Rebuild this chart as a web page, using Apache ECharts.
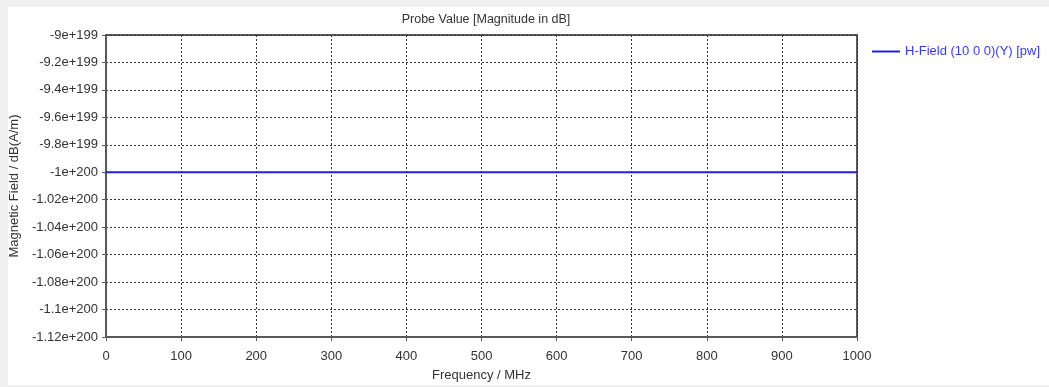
<!DOCTYPE html>
<html>
<head>
<meta charset="utf-8">
<script src="https://cdn.jsdelivr.net/npm/echarts@6/dist/echarts.min.js"></script>
<style>
html,body{margin:0;padding:0;background:#fff;}
#c{width:1049px;height:387px;}
</style>
</head>
<body>
<div id="c"></div>
<script>
const frequencies = [0, 100, 200, 300, 400, 500, 600, 700, 800, 900, 1000];
const hField = [-1e200, -1e200, -1e200, -1e200, -1e200, -1e200, -1e200, -1e200, -1e200, -1e200, -1e200];
const seriesName = 'H-Field (10 0 0)(Y) [pw]';
const yMin = -1.12e200, yMax = -9e199, yStep = 2e198;
const xMin = 0, xMax = 1000, xStep = 100;

const FONT = '"Liberation Sans", Arial, sans-serif';
const chart = echarts.init(document.getElementById('c'), null, {renderer: 'canvas'});
chart.setOption({
  animation: false,
  backgroundColor: '#ffffff',
  textStyle: {fontFamily: FONT},
  graphic: [
    {type: 'rect', shape: {x: 0, y: 0, width: 1049, height: 7}, style: {fill: '#f0f0f0'}, silent: true},
    {type: 'rect', shape: {x: 0, y: 0, width: 8, height: 387}, style: {fill: '#f0f0f0'}, silent: true},
    {type: 'rect', shape: {x: 0, y: 385, width: 1049, height: 2}, style: {fill: '#f0f0f0'}, silent: true}
  ],
  title: {
    text: 'Probe Value [Magnitude in dB]',
    left: 481, top: 8, textAlign: 'center',
    textStyle: {fontSize: 12.5, fontWeight: 'normal', color: '#333', fontFamily: FONT}
  },
  legend: {
    left: 867, top: 40,
    itemWidth: 28, itemHeight: 2, itemGap: 5,
    icon: 'rect',
    data: [{name: seriesName}],
    textStyle: {fontSize: 13, color: '#3a3af0', fontFamily: FONT}
  },
  grid: {
    left: 105, right: 192, top: 35, bottom: 45,
    show: true, borderColor: '#5a5a5a', borderWidth: 2, backgroundColor: 'transparent'
  },
  xAxis: {
    type: 'value', min: xMin, max: xMax, interval: xStep,
    name: 'Frequency / MHz', nameLocation: 'middle', nameGap: 32,
    nameTextStyle: {fontSize: 13, color: '#333', fontFamily: FONT},
    axisLine: {show: true, lineStyle: {color: '#5a5a5a', width: 2}},
    axisTick: {show: true, length: 4, lineStyle: {color: '#5a5a5a', width: 1}},
    axisLabel: {fontSize: 13, color: '#333', margin: 13, fontFamily: FONT,
      formatter: function (v) { return String(v); }},
    splitLine: {show: true, lineStyle: {color: '#333', width: 1, type: [2, 2]}}
  },
  yAxis: {
    type: 'value', min: yMin, max: yMax, interval: yStep,
    name: 'Magnetic Field / dB(A/m)', nameLocation: 'middle', nameGap: 78,
    nameTextStyle: {fontSize: 13, color: '#333', fontFamily: FONT},
    axisLine: {show: true, lineStyle: {color: '#5a5a5a', width: 2}},
    axisTick: {show: true, length: 4, lineStyle: {color: '#5a5a5a', width: 1}},
    axisLabel: {
      fontSize: 13, color: '#333', margin: 8, fontFamily: FONT,
      formatter: function (v) { return Number(Number(v).toPrecision(4)).toString(); }
    },
    splitLine: {show: true, lineStyle: {color: '#333', width: 1, type: [2, 2]}}
  },
  series: [{
    name: seriesName,
    type: 'line',
    data: frequencies.map((f, i) => [f, hField[i]]),
    symbol: 'none',
    lineStyle: {color: '#2020e6', width: 2},
    itemStyle: {color: '#2020e6'},
    z: 5
  }]
});
</script>
</body>
</html>
